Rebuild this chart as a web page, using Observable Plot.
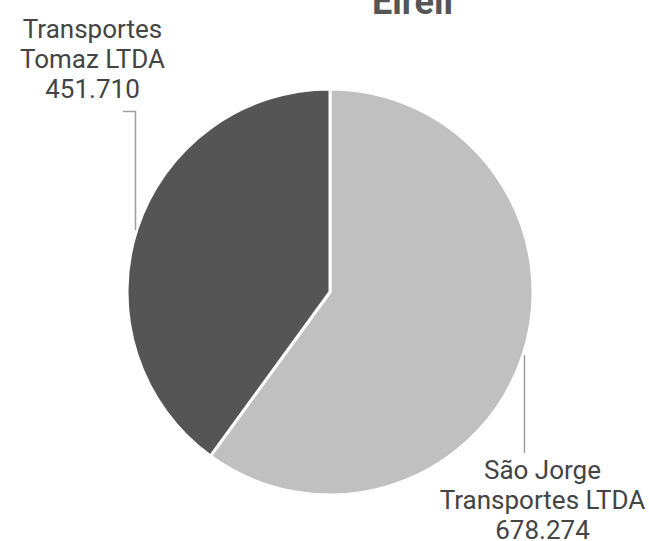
<!DOCTYPE html>
<html><head><meta charset="utf-8">
<script src="https://cdn.jsdelivr.net/npm/d3@7"></script>
<script src="https://cdn.jsdelivr.net/npm/@observablehq/plot@0.6"></script>
<style>body{margin:0;background:#fff}svg{font-family:Roboto,sans-serif}</style>
</head><body><div id="chart"></div>
<script>
const companies = ["São Jorge\nTransportes LTDA", "Transportes\nTomaz LTDA"];
const values = [678274, 451710];
const valueLabels = ["678.274", "451.710"];
const colors = ["#c0c0c0", "#555555"];
const titleText = "Eireli";

const W = 649, H = 541;
const cx = 330, cy = 292, R = 203;

const data = companies.map((c, i) => ({name: c, value: values[i], label: valueLabels[i], color: colors[i]}));
const arcs = d3.pie().sort(null).value(d => d.value)(data);

function pieMark(index, scales, vals, dims) {
  const g = d3.create("svg:g");
  const x0 = scales.x(cx), y0 = scales.y(cy);
  const r = scales.x(cx + R) - x0;
  const arc = d3.arc().innerRadius(0).outerRadius(r);
  g.selectAll("path").data(arcs).join("path")
    .attr("transform", `translate(${x0},${y0})`)
    .attr("d", arc)
    .attr("fill", d => d.data.color)
    .attr("stroke", "#fff").attr("stroke-width", 3).attr("stroke-linejoin", "round");
  return g.node();
}

const labelPos = [{x: 542, y: 457}, {x: 92, y: 16}];
const labels = data.map((d, i) => ({x: labelPos[i].x, y: labelPos[i].y, text: d.name + "\n" + d.label}));
const leaders = [
  [{x: 524, y: 355}, {x: 524, y: 452}],
  [{x: 123, y: 111}, {x: 135, y: 111}, {x: 135, y: 229}]
];
const leaderPts = leaders.flatMap((l, k) => l.map(p => ({...p, k})));

const chart = Plot.plot({
  width: W, height: H,
  margin: 0,
  x: {domain: [0, W], range: [0, W], axis: null},
  y: {domain: [0, H], range: [0, H], axis: null},
  marks: [
    pieMark,
    Plot.line(leaderPts, {x: "x", y: "y", z: "k", stroke: "#9e9e9e", strokeWidth: 1.5}),
    Plot.text(labels, {x: "x", y: "y", text: "text", fontSize: 26, fill: "#444", lineHeight: 1.155, textAnchor: "middle", lineAnchor: "top"}),
    Plot.text([titleText], {x: [412], y: [13], text: d => d, fontSize: 36, fontWeight: "bold", fill: "#555", lineAnchor: "bottom"})
  ]
});
document.getElementById("chart").append(chart);
</script></body></html>
